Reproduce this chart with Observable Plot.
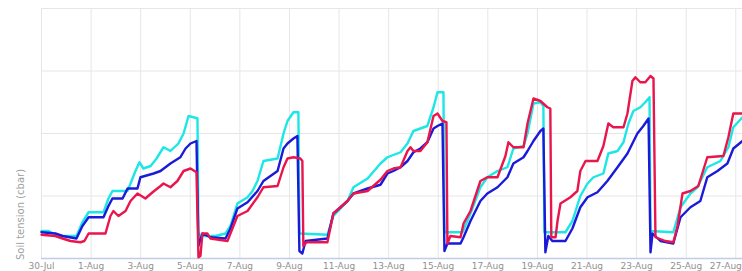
<!DOCTYPE html>
<html>
<head>
<meta charset="utf-8">
<script src="https://cdn.jsdelivr.net/npm/d3@7"></script>
<script src="https://cdn.jsdelivr.net/npm/@observablehq/plot@0.6"></script>
<style>
  html, body { margin: 0; padding: 0; background: #fff; }
  #chart svg { display: block; font-family: "DejaVu Sans", sans-serif; }
</style>
</head>
<body>
<div id="chart"></div>
<script>
// Start of the record (day 0 = 30 July)
const startDate = "2013-07-30";
// Tick positions (days since start) and their labels
const tickDays = [0, 2, 4, 6, 8, 10, 12, 14, 16, 18, 20, 22, 24, 26, 28];
const tickLabels = ["30-Jul", "1-Aug", "3-Aug", "5-Aug", "7-Aug", "9-Aug", "11-Aug", "13-Aug",
  "15-Aug", "17-Aug", "19-Aug", "21-Aug", "23-Aug", "25-Aug", "27-Aug"];
const yLabel = "Soil tension (cbar)";

// Series: [days since 30 Jul, soil tension (cbar)]
const cyanSeries = [
  [0,22],[0.28,22],[0.56,19],[0.85,18],[1.41,18],[1.65,29],[1.90,37],[2.50,37],[2.70,48],[2.86,54],
  [3.47,54],[3.79,70],[3.95,77],[4.11,72],[4.40,74],[4.64,80],[4.92,89],[5.20,86],[5.52,92],[5.73,100],
  [5.93,114],[6.13,113],[6.29,112],[6.33,21],[6.41,18],[7.02,18],[7.42,20],[7.62,26],[7.90,44],[8.31,49],
  [8.51,54],[8.71,62],[8.95,78],[9.52,80],[9.76,100],[9.92,110],[10.16,117],[10.36,117],[10.40,21],
  [10.44,20],[11.53,19],[11.77,34],[12.06,40],[12.34,46],[12.58,57],[13.15,64],[13.67,76],[13.95,81],
  [14.48,85],[14.76,92],[15.00,102],[15.28,104],[15.56,106],[15.81,121],[15.97,133],[16.21,133],[16.25,21],
  [16.98,21],[17.30,36],[17.70,57],[17.98,65],[18.39,70],[18.79,73],[19.03,88],[19.44,90],[19.60,100],
  [19.84,124],[20.12,125],[20.24,122],[20.28,21],[21.13,21],[21.41,30],[21.73,50],[22.02,60],[22.26,65],
  [22.66,68],[22.86,84],[23.23,86],[23.47,93],[23.67,108],[23.87,118],[24.15,121],[24.35,125],[24.52,129],
  [24.56,22],[25.48,21],[25.77,41],[26.17,52],[26.45,57],[26.85,73],[27.38,78],[27.70,89],[27.90,105],[28.27,113]
];
const blueSeries = [
  [0,21],[0.56,20],[0.85,18],[1.41,16],[1.65,26],[1.90,33],[2.50,33],[2.70,42],[2.86,48],[3.27,48],
  [3.47,56],[3.87,56],[3.99,65],[4.52,68],[4.80,70],[5.20,76],[5.60,81],[5.81,88],[6.01,92],[6.25,94],
  [6.33,10],[6.49,20],[6.81,17],[7.42,16],[7.62,24],[7.90,40],[8.31,45],[8.71,54],[8.95,62],[9.52,70],
  [9.76,88],[9.92,92],[10.16,96],[10.32,98],[10.40,6],[10.52,4],[10.65,14],[11.53,16],[11.77,36],[12.06,41],
  [12.34,46],[12.58,52],[13.15,56],[13.67,59],[13.95,68],[14.19,70],[14.48,73],[14.76,78],[15.00,85],
  [15.28,88],[15.56,93],[15.81,104],[15.97,106],[16.17,108],[16.25,6],[16.37,12],[16.90,12],[17.02,17],
  [17.30,30],[17.70,46],[17.98,52],[18.39,57],[18.79,65],[19.03,76],[19.44,81],[19.60,86],[19.84,94],
  [20.12,102],[20.24,104],[20.32,5],[20.44,18],[20.60,14],[21.13,14],[21.41,24],[21.73,41],[22.02,49],
  [22.42,53],[22.82,62],[23.23,73],[23.63,84],[24.03,100],[24.27,106],[24.48,112],[24.56,5],[24.64,20],
  [24.96,14],[25.48,12],[25.77,33],[26.17,41],[26.57,46],[26.85,65],[27.26,70],[27.66,76],[27.90,88],[28.27,94]
];
const redSeries = [
  [0,19],[0.56,18],[0.85,16],[1.17,14],[1.57,13],[1.73,14],[1.90,20],[2.58,20],[2.78,34],[2.90,38],
  [3.10,34],[3.39,38],[3.59,46],[3.87,52],[4.19,48],[4.48,53],[4.80,58],[4.92,60],[5.20,57],[5.48,62],
  [5.73,70],[6.01,72],[6.25,69],[6.33,1],[6.41,2],[6.49,20],[6.69,20],[6.81,16],[7.50,14],[7.62,20],
  [7.90,34],[8.31,38],[8.71,49],[8.95,57],[9.52,58],[9.76,73],[9.92,80],[10.16,81],[10.44,80],[10.52,78],
  [10.56,10],[10.69,13],[11.53,13],[11.77,36],[12.06,41],[12.34,46],[12.58,52],[13.15,54],[13.67,63],
  [13.95,70],[14.19,72],[14.48,73],[14.76,86],[14.88,89],[15.00,86],[15.28,86],[15.56,93],[15.81,114],
  [15.97,116],[16.17,110],[16.33,109],[16.37,12],[16.49,18],[16.90,17],[17.02,28],[17.30,38],[17.70,62],
  [17.98,65],[18.39,65],[18.71,82],[18.83,93],[19.03,89],[19.44,89],[19.60,108],[19.84,128],[20.12,126],
  [20.40,121],[20.52,120],[20.56,17],[20.73,17],[20.81,30],[20.93,44],[21.33,49],[21.61,54],[21.73,70],
  [21.94,78],[22.42,78],[22.66,90],[22.86,108],[23.06,105],[23.47,105],[23.63,116],[23.83,142],[23.95,145],
  [24.15,141],[24.35,141],[24.56,146],[24.68,144],[24.76,17],[25.16,14],[25.48,13],[25.65,26],[25.85,52],
  [26.17,54],[26.49,58],[26.85,81],[27.50,82],[27.70,97],[27.90,116],[28.27,116]
];
const seriesColors = {cyan: "#1ce6e6", blue: "#1a1ad8", red: "#e8164c"};

const t0 = new Date(startDate + "T00:00:00Z").getTime();
const toDate = (d) => new Date(t0 + d * 864e5);
const rows = (arr, name) => arr.map(([d, v]) => ({date: toDate(d), value: v, series: name}));
const tickDates = tickDays.map(toDate);
const labelByTime = new Map(tickDates.map((d, i) => [d.getTime(), tickLabels[i]]));
const fmt = d => labelByTime.get(d.getTime());
const lastDay = d3.max([cyanSeries, blueSeries, redSeries], s => s[s.length - 1][0]);

const chart = Plot.plot({
  width: 742,
  height: 271,
  marginLeft: 41,
  marginRight: 0,
  marginTop: 8,
  marginBottom: 13,
  style: {background: "#fff", overflow: "hidden"},
  x: {type: "utc", domain: [toDate(0), toDate(lastDay)]},
  y: {domain: [0, 200]},
  marks: [
    Plot.gridY([0, 50, 100, 150, 200], {stroke: "#e6e6e6", strokeOpacity: 1, strokeWidth: 1}),
    Plot.gridX(tickDates, {stroke: "#e6e6e6", strokeOpacity: 1, strokeWidth: 1}),
    Plot.ruleY([0], {stroke: "#c3cbe9", strokeWidth: 1.5}),
    Plot.axisX(tickDates.slice(0, -1), {
      tickSize: 0, tickPadding: 4, fontSize: 9, fill: "#909090", tickFormat: fmt, label: null
    }),
    Plot.axisX(tickDates.slice(-1), {
      tickSize: 0, tickPadding: 4, fontSize: 9, fill: "#909090", tickFormat: fmt, label: null,
      textAnchor: "end", dx: 6
    }),
    Plot.axisY({ticks: [], label: null, tickSize: 0}),
    Plot.text([yLabel], {
      frameAnchor: "left", textAnchor: "middle", dx: -21, dy: 81, rotate: -90,
      fontSize: 10, fill: "#a0a0a0"
    }),
    Plot.line(rows(cyanSeries, "cyan"), {x: "date", y: "value", stroke: seriesColors.cyan, strokeWidth: 2.4}),
    Plot.line(rows(blueSeries, "blue"), {x: "date", y: "value", stroke: seriesColors.blue, strokeWidth: 2.4}),
    Plot.line(rows(redSeries, "red"), {x: "date", y: "value", stroke: seriesColors.red, strokeWidth: 2.4})
  ]
});
document.getElementById("chart").appendChild(chart);
</script>
</body>
</html>
